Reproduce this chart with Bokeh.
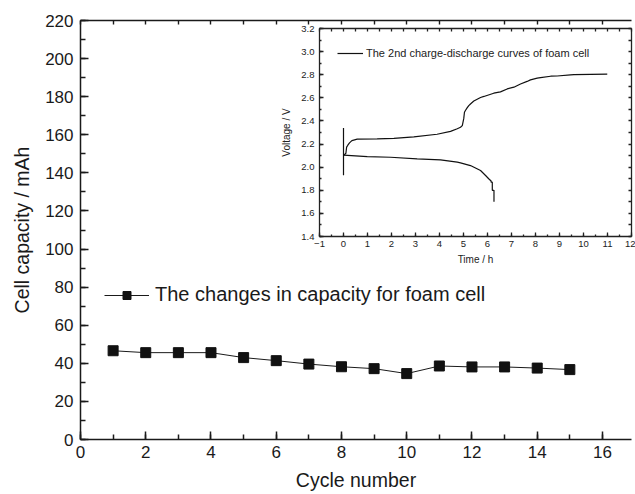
from bokeh.plotting import figure
from bokeh.layouts import column
from bokeh.models import (Range1d, LinearAxis, SingleIntervalTicker, FixedTicker, Legend, LegendItem,
                          NumeralTickFormatter)
from bokeh.embed import file_html
from bokeh.resources import INLINE

# ---- main series: capacity per cycle ----
cycles = [1, 2, 3, 4, 5, 6, 7, 8, 9, 10, 11, 12, 13, 14, 15]
capacity = [46.6, 45.6, 45.6, 45.6, 43.0, 41.4, 39.6, 38.2, 37.2, 34.6, 38.6, 38.1, 38.1, 37.5, 36.7]
top_ticks = [0, 1, 2, 3, 4, 5, 6, 7, 8, 9, 10, 11, 12, 13, 14, 15, 16]

# ---- inset: 2nd charge-discharge curves ----
charge_t = [0.0, 0.10, 0.13, 0.18, 0.25, 0.35, 0.57, 1.4, 2.1, 2.93, 3.9, 4.46, 4.74, 4.875,
            4.95, 5.01, 5.04, 5.08, 5.15, 5.22, 5.29, 5.43, 5.71, 5.85, 6.26, 6.54, 6.82, 7.1,
            7.375, 7.65, 7.79, 8.07, 8.21, 8.63, 8.9, 9.46, 9.6, 10.99]
charge_v = [2.10, 2.12, 2.173, 2.19, 2.21, 2.23, 2.242, 2.245, 2.25, 2.262, 2.285, 2.31, 2.332, 2.345,
            2.36, 2.42, 2.475, 2.49, 2.513, 2.533, 2.547, 2.572, 2.603, 2.612, 2.64, 2.652, 2.677, 2.692,
            2.72, 2.742, 2.755, 2.77, 2.775, 2.787, 2.789, 2.798, 2.80, 2.805]
spike_t = [0.0, 0.0]
spike_v = [1.93, 2.34]
discharge_t = [0.0, 0.99, 1.96, 3.07, 4.04, 4.74, 4.875, 5.29, 5.71, 5.92, 6.05, 6.15, 6.15,
               6.2, 6.2, 6.27, 6.27]
discharge_v = [2.105, 2.092, 2.086, 2.072, 2.063, 2.043, 2.037, 2.014, 1.971, 1.928, 1.90, 1.88, 1.87,
               1.87, 1.80, 1.80, 1.70]
inset_top_ticks = [-1, -0.5, 0, 0.5, 1, 1.5, 2, 2.5, 3, 3.5, 4, 4.5, 5, 5.5, 6, 6.5, 7, 7.5, 8, 8.5,
                   9, 9.5, 10, 10.5, 11, 11.5, 12]
inset_right_ticks = [1.4, 1.5, 1.6, 1.7, 1.8, 1.9, 2.0, 2.1, 2.2, 2.3, 2.4, 2.5, 2.6, 2.7, 2.8, 2.9,
                     3.0, 3.1, 3.2]

FONT = "Liberation Sans"
INK = "#1a1a1a"


def style_axis(ax, lw, tick_in, minor_in, lab_size, title_size, col):
    ax.axis_line_width = lw
    ax.axis_line_color = col
    ax.major_tick_line_color = col
    ax.minor_tick_line_color = col
    ax.major_tick_line_width = lw
    ax.minor_tick_line_width = lw
    ax.major_tick_in = tick_in
    ax.major_tick_out = 0
    ax.minor_tick_in = minor_in
    ax.minor_tick_out = 0
    ax.major_label_text_font = FONT
    ax.major_label_text_font_size = lab_size
    ax.major_label_text_color = col
    ax.axis_label_text_font = FONT
    ax.axis_label_text_font_size = title_size
    ax.axis_label_text_font_style = "normal"
    ax.axis_label_text_color = col


# ================= main figure =================
p = figure(width=635, height=494, x_range=Range1d(0, 16.89), y_range=Range1d(0, 220),
           output_backend="svg", toolbar_location=None,
           min_border_left=76, min_border_top=20, min_border_bottom=55, min_border_right=0)
p.outline_line_color = None
p.grid.grid_line_color = None
p.background_fill_color = None
p.border_fill_color = "white"

bottom = p.below[0]
left = p.left[0]
bottom.axis_label = "Cycle number"
left.axis_label = "Cell capacity / mAh"
bottom.ticker = SingleIntervalTicker(interval=2, num_minor_ticks=2)
left.ticker = SingleIntervalTicker(interval=20, num_minor_ticks=2)
style_axis(bottom, 1.5, 8, 5, "17px", "19.5px", INK)
style_axis(left, 1.5, 8, 5, "17px", "19.5px", INK)
bottom.major_label_standoff = 6
bottom.axis_label_standoff = 8
left.major_label_standoff = 7
left.axis_label_standoff = 9

top_axis = LinearAxis(ticker=FixedTicker(ticks=[], minor_ticks=top_ticks))
style_axis(top_axis, 1.4, 4, 4, "10px", "10px", INK)
top_axis.major_label_standoff = 0
p.add_layout(top_axis, "above")

line_r = p.line(cycles, capacity, line_color=INK, line_width=1)
sq_r = p.scatter(cycles, capacity, marker="square", size=10, fill_color="#111111",
                 line_color="#111111")

leg = Legend(items=[LegendItem(label="The changes in capacity for foam cell",
                               renderers=[line_r, sq_r])],
             location=(24, 133), glyph_width=45, glyph_height=20, label_height=20,
             label_standoff=6, padding=0, margin=0, spacing=0,
             border_line_color=None, background_fill_alpha=0,
             label_text_font=FONT, label_text_font_size="20px", label_text_color=INK)
p.add_layout(leg)

# ================= inset figure =================
ins = figure(frame_width=312, frame_height=208, x_range=Range1d(-1, 12), y_range=Range1d(1.4, 3.2),
             output_backend="svg", toolbar_location=None,
             min_border_left=80, min_border_top=6, min_border_bottom=32, min_border_right=4,
             margin=(-472, 0, 0, 239))
ins.outline_line_color = None
ins.grid.grid_line_color = None
ins.background_fill_color = None
ins.border_fill_color = None
ibottom = ins.below[0]
ileft = ins.left[0]
ibottom.axis_label = "Time / h"
ileft.axis_label = "Voltage / V"
ibottom.ticker = SingleIntervalTicker(interval=1, num_minor_ticks=2)
ileft.ticker = SingleIntervalTicker(interval=0.2, num_minor_ticks=2)
ileft.formatter = NumeralTickFormatter(format="0.0")
ins_top = LinearAxis(ticker=FixedTicker(ticks=[], minor_ticks=inset_top_ticks))
ins_right = LinearAxis(ticker=FixedTicker(ticks=[], minor_ticks=inset_right_ticks))
ins.add_layout(ins_top, "above")
ins.add_layout(ins_right, "right")
for ax in (ibottom, ileft, ins_top, ins_right):
    style_axis(ax, 1.3, 4, 2, "9.5px", "10px", "#222222")
ins_top.minor_tick_in = 3
ins_right.minor_tick_in = 3
ins_top.major_label_standoff = 0
ins_right.major_label_standoff = 0
ibottom.major_label_standoff = 4
ibottom.axis_label_standoff = 4
ileft.major_label_standoff = 5
ileft.axis_label_standoff = 6

ch_r = ins.line(charge_t, charge_v, line_color="#111111", line_width=1.2)
ins.line(spike_t, spike_v, line_color="#111111", line_width=1.2)
ins.line(discharge_t, discharge_v, line_color="#111111", line_width=1.2)

ileg = Legend(items=[LegendItem(label="The 2nd charge-discharge curves of foam cell",
                                renderers=[ch_r])],
              location=(18, 177), glyph_width=26, glyph_height=12, label_height=12,
              label_standoff=3, padding=0, margin=0, spacing=0,
              border_line_color=None, background_fill_alpha=0,
              label_text_font=FONT, label_text_font_size="11px", label_text_color="#222222")
ins.add_layout(ileg)

layout = column(p, ins)
open("out.html", "w").write(file_html(layout, INLINE))
